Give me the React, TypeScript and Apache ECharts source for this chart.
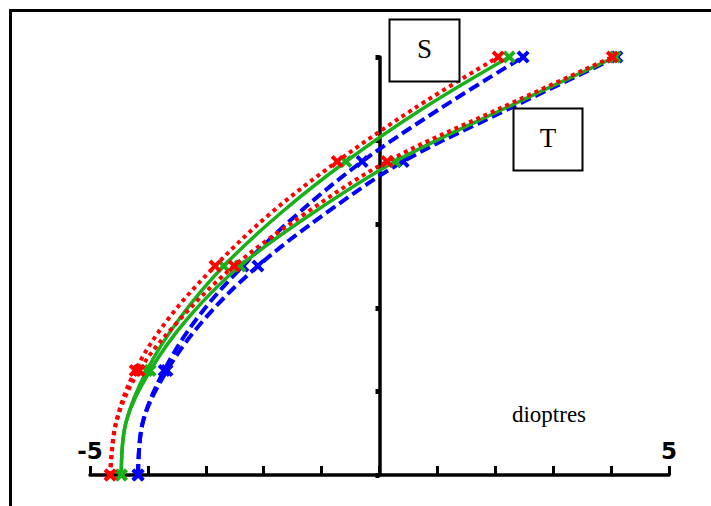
import React, { useEffect, useRef } from "react";
import * as echarts from "echarts";

// Eccentricity levels (y) at which each curve was read
const eccentricity = [0, 5, 10, 15, 20, 25, 30, 35, 40];
// Levels carrying an "x" marker
const markedLevels = [0, 10, 20, 30, 40];

// Sagittal (S) curves, x in dioptres
const sRed = [-4.65, -4.55, -4.22, -3.64, -2.84, -1.89, -0.73, 0.58, 2.05];
const sGreen = [-4.46, -4.38, -4.02, -3.45, -2.69, -1.72, -0.58, 0.73, 2.24];
const sBlue = [-4.17, -4.09, -3.72, -3.15, -2.36, -1.41, -0.3, 1.03, 2.48];
// Tangential (T) curves
const tRed = [-4.65, -4.55, -4.15, -3.43, -2.51, -1.29, 0.13, 2.05, 4.02];
const tGreen = [-4.46, -4.38, -3.96, -3.31, -2.41, -1.17, 0.27, 2.13, 4.07];
const tBlue = [-4.17, -4.09, -3.67, -3.01, -2.1, -0.94, 0.41, 2.22, 4.1];

const labelledTicks = [-5, 5];

const X_MARK = "path://M0,3L3,0L7,4L11,0L14,3L10,7L14,11L11,14L7,10L3,14L0,11L4,7Z";

const RED = "#ff0000";
const GREEN = "#19b019";
const BLUE = "#0000ff";

function buildData(xs: number[]) {
  return xs.map((x, i) => {
    const y = eccentricity[i];
    return markedLevels.includes(y)
      ? { value: [x, y] }
      : { value: [x, y], symbol: "none" };
  });
}

function lineSeries(name: string, xs: number[], color: string, style: any, width: number, z: number) {
  return {
    name,
    type: "line",
    data: buildData(xs),
    smooth: 0.35,
    symbol: X_MARK,
    symbolSize: 13,
    showAllSymbol: true,
    lineStyle: { color, width, type: style, cap: "butt" },
    itemStyle: { color },
    z,
  };
}

export default function App() {
  const ref = useRef<HTMLDivElement>(null);
  useEffect(() => {
    if (!ref.current) return;
    const chart = echarts.init(ref.current, null, { renderer: "svg" });
    chart.setOption({
      animation: false,
      backgroundColor: "#ffffff",
      grid: { left: 90, right: 42, top: 57, bottom: 31 },
      xAxis: {
        type: "value",
        min: -5,
        max: 5,
        interval: 1,
        splitLine: { show: false },
        axisLine: { lineStyle: { color: "#000", width: 3.5 } },
        axisTick: { inside: true, length: 9, lineStyle: { color: "#000", width: 3 } },
        axisLabel: {
          inside: true,
          margin: 13,
          color: "#000",
          fontFamily: "DejaVu Sans",
          fontWeight: "bold",
          fontSize: 23,
          formatter: (v: number) => (labelledTicks.includes(v) ? (v < 0 ? "-" + Math.abs(v) : String(v)) : ""),
        },
      },
      yAxis: {
        type: "value",
        min: 0,
        max: 40,
        interval: 8,
        splitLine: { show: false },
        axisLine: { onZero: true, lineStyle: { color: "#000", width: 3.5 } },
        axisTick: { length: 4, lineStyle: { color: "#000", width: 5 } },
        axisLabel: { show: false },
      },
      series: [
        lineSeries("S blue", sBlue, BLUE, [11, 5], 4, 3),
        lineSeries("T blue", tBlue, BLUE, [11, 5], 4, 3),
        lineSeries("S green", sGreen, GREEN, "solid", 3.5, 4),
        lineSeries("T green", tGreen, GREEN, "solid", 3.5, 4),
        lineSeries("S red", sRed, RED, [4, 4], 4, 5),
        lineSeries("T red", tRed, RED, [4, 4], 4, 5),
      ],
      graphic: [
        {
          type: "rect",
          shape: { x: 10.5, y: 10.5, width: 800, height: 600 },
          style: { fill: "none", stroke: "#000", lineWidth: 3 },
          silent: true,
        },
        {
          type: "rect",
          shape: { x: 389.5, y: 19.5, width: 70, height: 62 },
          style: { fill: "#fff", stroke: "#000", lineWidth: 2 },
          z: 10,
        },
        {
          type: "text",
          x: 424.5,
          y: 49,
          style: { text: "S", fill: "#000", font: "27px 'Liberation Serif'", align: "center", verticalAlign: "middle" },
          z: 11,
        },
        {
          type: "rect",
          shape: { x: 513.5, y: 108.5, width: 69, height: 62 },
          style: { fill: "#fff", stroke: "#000", lineWidth: 2 },
          z: 10,
        },
        {
          type: "text",
          x: 548,
          y: 138,
          style: { text: "T", fill: "#000", font: "27px 'Liberation Serif'", align: "center", verticalAlign: "middle" },
          z: 11,
        },
        {
          type: "text",
          x: 549,
          y: 414,
          style: { text: "dioptres", fill: "#000", font: "23px 'Liberation Serif'", align: "center", verticalAlign: "middle" },
          z: 11,
        },
      ],
    });
    return () => chart.dispose();
  }, []);
  return (
    <div
      ref={ref}
      style={{ position: "fixed", left: 0, top: 0, width: 711, height: 506 }}
    />
  );
}
